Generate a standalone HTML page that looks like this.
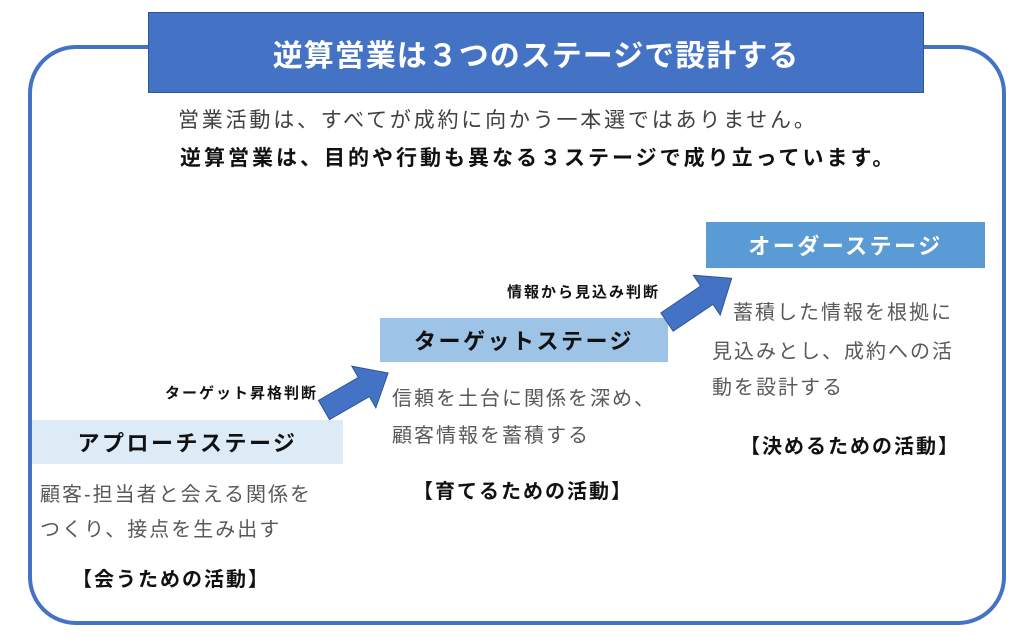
<!DOCTYPE html>
<html><head><meta charset="utf-8"><style>
body{margin:0;width:1024px;height:638px;background:#fff;position:relative;overflow:hidden;font-family:"Liberation Sans","Noto Sans CJK JP",sans-serif;}
.a{position:absolute;white-space:nowrap;}
.t{font-size:20px;color:#595959;letter-spacing:2px;}
.b{font-weight:bold;color:#111;}
.box{position:absolute;display:flex;align-items:center;justify-content:center;font-weight:bold;font-size:22px;letter-spacing:2.5px;}
</style></head><body>
<div class="a" style="left:28px;top:45px;width:970px;height:572px;border:4px solid #4472c4;border-radius:48px;"></div>
<div class="box" style="left:148px;top:12px;width:776px;height:81px;background:#4472c4;color:#fff;font-size:30px;letter-spacing:1px;border:1px solid #2f5597;box-sizing:border-box;">逆算営業は３つのステージで設計する</div>
<div class="a t" style="left:178px;top:104px;color:#404040;font-size:21px;letter-spacing:2.8px;">営業活動は、すべてが成約に向かう一本選ではありません。</div>
<div class="a b" style="left:180px;top:142px;font-size:21px;letter-spacing:3px;">逆算営業は、目的や行動も異なる３ステージで成り立っています。</div>

<div class="box" style="left:706px;top:222px;width:279px;height:46px;background:#5b9bd5;color:#fff;">オーダーステージ</div>
<div class="box" style="left:380px;top:318px;width:288px;height:44px;background:#9dc3e6;color:#111;">ターゲットステージ</div>
<div class="box" style="left:32px;top:420px;width:311px;height:44px;background:#ddebf7;color:#111;">アプローチステージ</div>

<div class="a t" style="left:733px;top:296px;">蓄積した情報を根拠に</div>
<div class="a t" style="left:712px;top:335px;">見込みとし、成約への活</div>
<div class="a t" style="left:712px;top:371px;">動を設計する</div>
<div class="a b" style="left:740px;top:430px;font-size:20px;letter-spacing:2px;">【決めるための活動】</div>

<div class="a t" style="left:392px;top:382px;">信頼を土台に関係を深め、</div>
<div class="a t" style="left:392px;top:419px;">顧客情報を蓄積する</div>
<div class="a b" style="left:413px;top:475px;font-size:20px;letter-spacing:2px;">【育てるための活動】</div>

<div class="a t" style="left:40px;top:478px;">顧客-担当者と会える関係を</div>
<div class="a t" style="left:40px;top:513px;">つくり、接点を生み出す</div>
<div class="a b" style="left:72px;top:563px;font-size:20px;letter-spacing:2px;">【会うための活動】</div>

<div class="a b" style="left:165px;top:382px;font-size:15px;letter-spacing:2px;">ターゲット昇格判断</div>
<div class="a b" style="left:507px;top:281px;font-size:15px;letter-spacing:2px;">情報から見込み判断</div>

<svg class="a" style="left:0;top:0" width="1024" height="638">
<g transform="translate(324,410) rotate(-30)"><polygon points="0,-11 46,-11 46,-24 74,0 46,24 46,11 0,11" fill="#4472c4" stroke="#2f5597" stroke-width="1"/></g>
<g transform="translate(667,322) rotate(-34)"><polygon points="0,-11 48,-11 48,-24 78,0 48,24 48,11 0,11" fill="#4472c4" stroke="#2f5597" stroke-width="1"/></g>
</svg>
</body></html>
